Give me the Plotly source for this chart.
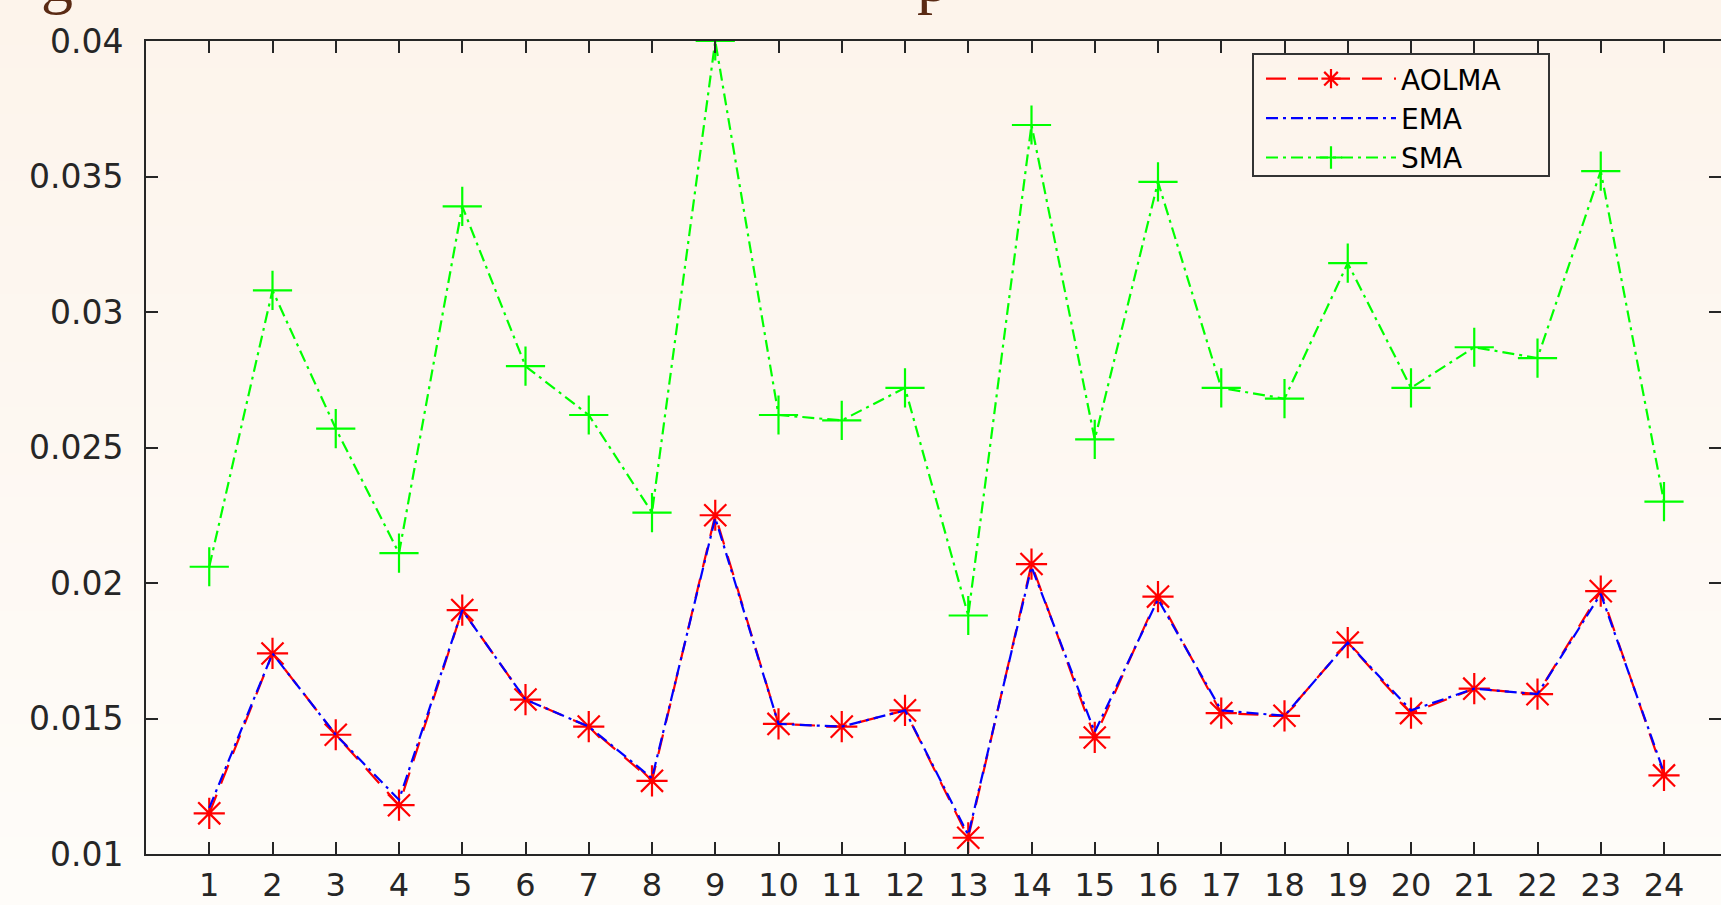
import plotly.graph_objects as go

x_vals = list(range(1, 25))
aolma = [0.0115, 0.0174, 0.0144, 0.0118, 0.0190, 0.0157, 0.0147, 0.0127, 0.0225, 0.0148,
         0.0147, 0.0153, 0.0106, 0.0207, 0.0143, 0.0195, 0.0152, 0.0151, 0.0178, 0.0152,
         0.0161, 0.0159, 0.0197, 0.0129]
ema = [0.0117, 0.0174, 0.0144, 0.0120, 0.0190, 0.0157, 0.0147, 0.0128, 0.0224, 0.0148,
       0.0147, 0.0153, 0.0107, 0.0206, 0.0145, 0.0194, 0.0153, 0.0151, 0.0178, 0.0153,
       0.0161, 0.0159, 0.0196, 0.0130]
sma = [0.0206, 0.0308, 0.0257, 0.0211, 0.0339, 0.0280, 0.0262, 0.0226, 0.0400, 0.0262,
       0.0260, 0.0272, 0.0188, 0.0369, 0.0253, 0.0348, 0.0272, 0.0268, 0.0318, 0.0272,
       0.0287, 0.0283, 0.0352, 0.0230]
y_ticks = [0.01, 0.015, 0.02, 0.025, 0.03, 0.035, 0.04]
y_tick_text = ["0.01", "0.015", "0.02", "0.025", "0.03", "0.035", "0.04"]
x_tick_text = [str(v) for v in x_vals]

W, H = 1721, 905
ML, MT, MB, MR = 146, 41, 51, 0
FONT = "DejaVu Sans, Liberation Sans, Arial, sans-serif"
AX = "#262626"

fig = go.Figure()
fig.add_trace(go.Scatter(
    x=x_vals, y=aolma, name="AOLMA", mode="lines+markers",
    line=dict(color="#ff0000", width=2.2, dash="20px,12px"),
    marker=dict(symbol="asterisk-open", size=26, color="#ff0000",
                line=dict(color="#ff0000", width=2.2)),
))
fig.add_trace(go.Scatter(
    x=x_vals, y=ema, name="EMA", mode="lines",
    line=dict(color="#0000ff", width=2.2, dash="12px,5px,3px,5px"),
))
fig.add_trace(go.Scatter(
    x=x_vals, y=sma, name="SMA", mode="lines+markers",
    line=dict(color="#00ff00", width=2.2, dash="12px,5px,3px,5px"),
    marker=dict(symbol="cross-thin-open", size=28, color="#00ff00",
                line=dict(color="#00ff00", width=2.2)),
))

pw = W - ML - MR
ph = H - MT - MB


def px_x(px):
    return (px - ML) / pw


def px_y(py):
    return (H - MB - py) / ph


# background gradient bands
shapes = []
n = 40
top = (253, 244, 235)
bot = (254, 252, 249)
for i in range(n):
    f = i / (n - 1)
    c = tuple(round(top[k] + (bot[k] - top[k]) * f) for k in range(3))
    py0 = H * i / n
    py1 = H * (i + 1) / n + 1
    shapes.append(dict(
        type="rect", xref="paper", yref="paper", layer="below",
        x0=-0.2, x1=1.2, y0=px_y(py1), y1=px_y(py0),
        fillcolor="rgb(%d,%d,%d)" % c, line=dict(width=0),
    ))
# legend frame
shapes.append(dict(
    type="rect", xref="paper", yref="paper", layer="above",
    x0=px_x(1253), x1=px_x(1549), y0=px_y(176), y1=px_y(54),
    line=dict(color="#333333", width=2), fillcolor="rgba(0,0,0,0)",
))

fig.update_layout(
    width=W, height=H,
    margin=dict(l=ML, r=MR, t=MT, b=MB, pad=0),
    paper_bgcolor="rgba(0,0,0,0)",
    plot_bgcolor="rgba(0,0,0,0)",
    font=dict(family=FONT, size=33, color=AX),
    shapes=shapes,
    showlegend=True,
    legend=dict(
        x=px_x(1261), y=px_y(54), xanchor="left", yanchor="top",
        bgcolor="rgba(0,0,0,0)", borderwidth=0,
        font=dict(family=FONT, size=28, color="#000000"),
        itemwidth=130, tracegroupgap=0,
    ),
    xaxis=dict(
        range=[0, pw / 63.25], tickmode="array", tickvals=x_vals, ticktext=x_tick_text,
        ticks="inside", ticklen=12, tickwidth=2, tickcolor=AX,
        showline=True, linewidth=2, linecolor=AX, mirror="ticks",
        showgrid=False, zeroline=False, ticklabelstandoff=2, automargin=False,
        tickfont=dict(family=FONT, size=32, color=AX),
    ),
    yaxis=dict(
        range=[0.01, 0.04], tickmode="array", tickvals=y_ticks, ticktext=y_tick_text,
        ticks="inside", ticklen=12, tickwidth=2, tickcolor=AX,
        showline=True, linewidth=2, linecolor=AX, automargin=False,
        showgrid=False, zeroline=False, ticklabelstandoff=14,
        tickfont=dict(family=FONT, size=33, color=AX),
    ),
    yaxis2=dict(
        overlaying="y", side="right", range=[0.01, 0.04], tickmode="array",
        tickvals=y_ticks, ticktext=["" for _ in y_ticks], automargin=False,
        ticks="inside", ticklen=12, tickwidth=2, tickcolor=AX,
        showline=False, showgrid=False, zeroline=False, showticklabels=False,
    ),
    annotations=[
        dict(text="g", xref="paper", yref="paper", x=px_x(57), y=px_y(17),
             xanchor="center", yanchor="bottom", showarrow=False,
             font=dict(family="Liberation Serif, Times New Roman, serif", size=64, color="#5a2a14")),
        dict(text="p", xref="paper", yref="paper", x=px_x(933), y=px_y(17),
             xanchor="center", yanchor="bottom", showarrow=False,
             font=dict(family="Liberation Serif, Times New Roman, serif", size=64, color="#5a2a14")),
    ],
)
# invisible trace so the right-hand y axis renders
fig.add_trace(go.Scatter(x=[1], y=[0.02], yaxis="y2", mode="markers",
                         marker=dict(opacity=0), showlegend=False, hoverinfo="skip"))

fig.write_html("out.html")
